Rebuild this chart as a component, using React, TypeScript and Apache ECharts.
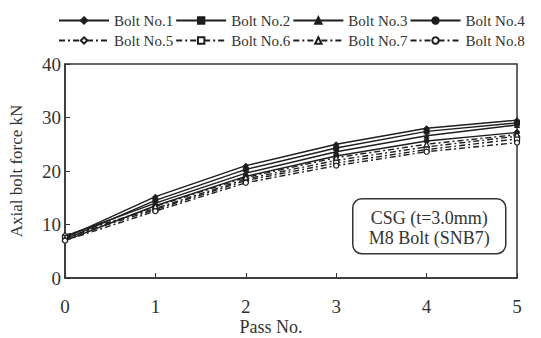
import React, { useEffect, useRef } from "react";
import * as echarts from "echarts";

const passNo = [0, 1, 2, 3, 4, 5];
const seriesNames = [
  "Bolt No.1", "Bolt No.2", "Bolt No.3", "Bolt No.4",
  "Bolt No.5", "Bolt No.6", "Bolt No.7", "Bolt No.8",
];
const bolt1 = [7.5, 15.2, 21.0, 25.0, 28.0, 29.5];
const bolt2 = [7.2, 14.5, 20.3, 24.3, 27.4, 29.0];
const bolt3 = [7.8, 14.0, 19.6, 23.6, 26.6, 28.6];
const bolt4 = [7.0, 13.5, 19.0, 22.8, 25.6, 27.2];
const bolt5 = [8.0, 13.0, 18.5, 22.0, 24.5, 26.5];
const bolt6 = [7.5, 12.8, 18.2, 21.5, 24.0, 26.0];
const bolt7 = [7.3, 13.4, 18.8, 22.5, 25.0, 26.8];
const bolt8 = [7.0, 12.5, 17.8, 21.0, 23.6, 25.3];
const allValues = [bolt1, bolt2, bolt3, bolt4, bolt5, bolt6, bolt7, bolt8];
const symbols = ["diamond", "rect", "triangle", "circle", "diamond", "rect", "triangle", "circle"];
const yTicks = { min: 0, max: 40, interval: 10 };
const xTicks = { min: 0, max: 5, interval: 1 };
const xAxisTitle = "Pass No.";
const yAxisTitle = "Axial bolt force kN";
const noteLines = ["CSG (t=3.0mm)", "M8 Bolt (SNB7)"];

const FONT = "'Liberation Serif', 'DejaVu Serif', serif";
const INK = "#1e1e1e";
const TXT = "#333";

export default function App() {
  const ref = useRef<HTMLDivElement>(null);
  useEffect(() => {
    if (!ref.current) return;
    const chart = echarts.init(ref.current, undefined, { renderer: "svg" });
    const series = allValues.map((vals, i) => {
      const dashed = i >= 4;
      return {
        name: seriesNames[i],
        type: "line",
        data: passNo.map((x, k) => [x, vals[k]]),
        symbol: symbols[i],
        symbolSize: 5,
        showSymbol: true,
        lineStyle: {
          color: INK,
          width: 1.4,
          type: dashed ? [6, 3, 2, 3] : "solid",
        },
        itemStyle: dashed
          ? { color: "#fff", borderColor: INK, borderWidth: 1.2 }
          : { color: INK, borderColor: INK, borderWidth: 1 },
        emphasis: { disabled: true },
      };
    });
    const legendCommon = {
      left: 58,
      itemWidth: 50,
      itemHeight: 8,
      itemGap: 2,
      textStyle: { fontFamily: FONT, fontSize: 15, color: TXT },
      padding: 0,
    };
    chart.setOption({
      animation: false,
      backgroundColor: "#fff",
      legend: [
        { ...legendCommon, top: 13, data: seriesNames.slice(0, 4) },
        { ...legendCommon, top: 33, data: seriesNames.slice(4, 8) },
      ],
      grid: {
        left: 65,
        right: 24,
        top: 64,
        bottom: 60,
        containLabel: false,
        outerBoundsMode: "none",
        show: true,
        borderColor: "#333",
        borderWidth: 1.5,
        backgroundColor: "transparent",
      },
      xAxis: {
        type: "value",
        ...xTicks,
        axisLine: { show: true, lineStyle: { color: "#333", width: 1.5 } },
        axisTick: { show: true, inside: true, length: 5, lineStyle: { color: "#333" } },
        splitLine: { show: false },
        axisLabel: { margin: 19, fontFamily: FONT, fontSize: 19, color: TXT },
      },
      yAxis: {
        type: "value",
        ...yTicks,
        name: yAxisTitle,
        nameLocation: "middle",
        nameGap: 40,
        nameTextStyle: { fontFamily: FONT, fontSize: 17, color: TXT },
        axisLine: { show: true, lineStyle: { color: "#333", width: 1.5 } },
        axisTick: { show: true, inside: true, length: 5, lineStyle: { color: "#333" } },
        splitLine: { show: false },
        axisLabel: { margin: 4, fontFamily: FONT, fontSize: 19, color: TXT },
      },
      graphic: [
        {
          type: "text",
          x: 271,
          y: 327,
          style: {
            text: xAxisTitle,
            fontFamily: FONT,
            fontSize: 18,
            fill: TXT,
            align: "center",
            verticalAlign: "middle",
          },
        },
        {
          type: "group",
          left: 352,
          top: 198,
          children: [
            {
              type: "rect",
              shape: { x: 0, y: 0, width: 153, height: 55, r: 9 },
              style: { fill: "#fff", stroke: "#333", lineWidth: 1.5 },
            },
            {
              type: "text",
              x: 76.5,
              y: 19,
              style: {
                text: noteLines[0],
                fontFamily: FONT,
                fontSize: 18,
                fill: TXT,
                align: "center",
                verticalAlign: "middle",
              },
            },
            {
              type: "text",
              x: 76.5,
              y: 39,
              style: {
                text: noteLines[1],
                fontFamily: FONT,
                fontSize: 18,
                fill: TXT,
                align: "center",
                verticalAlign: "middle",
              },
            },
          ],
        },
      ],
      series,
    });
    return () => chart.dispose();
  }, []);
  return <div ref={ref} style={{ width: 541, height: 338, position: "absolute", left: 0, top: 0 }} />;
}
